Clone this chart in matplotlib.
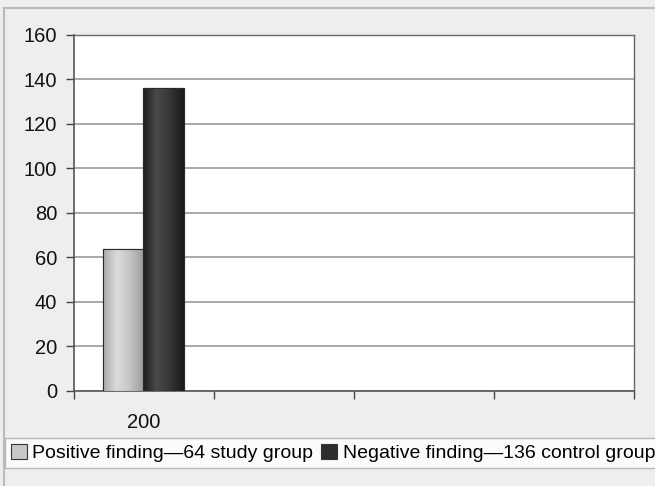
import numpy as np
import matplotlib.pyplot as plt
from matplotlib.colors import LinearSegmentedColormap

plt.rcParams['font.family'] = ['Liberation Sans', 'DejaVu Sans']

# data
categories = ['200', '', '', '']
series_names = ['Positive finding\u201464 study group', 'Negative finding\u2014136 control group']
series_values = [[64], [136]]
y_ticks = [0, 20, 40, 60, 80, 100, 120, 140, 160]

# shading for the two bars (edge -> centre -> edge)
shade_colors = [
    ['#a9a9a9', '#dcdcdc', '#c4c4c4', '#9c9c9c'],
    ['#1e1e1e', '#4a4a4a', '#353535', '#1a1a1a'],
]
face_colors = ['#c8c8c8', '#2e2e2e']

fig = plt.figure(figsize=(6.55, 4.86), dpi=100, facecolor='#eeeeee')
ax = fig.add_axes([0.113, 0.1955, 0.855, 0.7325])
ax.set_facecolor('white')

n_cat = len(categories)
bar_w = 0.29
offsets = [-0.29 / 2 - 0.005, 0.29 / 2 - 0.005]

for i, vals in enumerate(series_values):
    xs = np.arange(len(vals)) + offsets[i]
    bars = ax.bar(xs, vals, width=bar_w, color=face_colors[i],
                  edgecolor='#333333', linewidth=0.8, zorder=3,
                  label=series_names[i])
    cmap = LinearSegmentedColormap.from_list('sh%d' % i, shade_colors[i])
    grad = np.linspace(0, 1, 256).reshape(1, -1)
    for b in bars:
        x0, w, h = b.get_x(), b.get_width(), b.get_height()
        im = ax.imshow(grad, cmap=cmap, aspect='auto', zorder=3.5,
                       extent=[x0, x0 + w, 0, h], interpolation='bicubic')
        im.set_clip_path(b)
        ax.add_patch(plt.Rectangle((x0, 0), w, h, fill=False,
                                   edgecolor='#2a2a2a', linewidth=0.8, zorder=4))

ax.set_xlim(-0.5, n_cat - 0.5)
ax.set_ylim(0, 160)
ax.set_yticks(y_ticks)
ax.set_yticklabels([str(t) for t in y_ticks], fontsize=14.5, color='#111111')
ax.yaxis.grid(True, color='#999999', linewidth=1.2, zorder=0)
ax.set_axisbelow(True)

# category labels between boundary ticks
ax.set_xticks(np.arange(n_cat + 1) - 0.5)
ax.set_xticklabels([])
ax.set_xticks(np.arange(n_cat), minor=True)
ax.set_xticklabels(categories, minor=True, fontsize=14.5, color='#111111')
ax.tick_params(axis='x', which='minor', length=0, pad=16)
ax.tick_params(axis='x', which='major', length=6, width=1, color='#444444', direction='out')
ax.tick_params(axis='y', length=6, width=1, color='#444444', direction='out', pad=6)

for side in ['left', 'bottom']:
    ax.spines[side].set_color('#555555')
    ax.spines[side].set_linewidth(1.2)
for side in ['top', 'right']:
    ax.spines[side].set_color('#666666')
    ax.spines[side].set_linewidth(1.0)

handles, labels = ax.get_legend_handles_labels()
leg = fig.legend(handles, labels, loc='lower left', ncol=2,
                 bbox_to_anchor=(0.008, 0.037),
                 fontsize=14, frameon=True, fancybox=False,
                 handlelength=0.8, handleheight=0.8, handletextpad=0.3,
                 columnspacing=0.4, borderpad=0.3, borderaxespad=0)
leg.get_frame().set_edgecolor('#aaaaaa')
leg.get_frame().set_facecolor('white')
leg.get_frame().set_linewidth(1.0)

# outer chart frame
fig.add_artist(plt.Line2D([0.006, 0.006], [0.0, 0.984], color='#bbbbbb', linewidth=1.5))
fig.add_artist(plt.Line2D([0.006, 1.0], [0.984, 0.984], color='#bbbbbb', linewidth=1.5))

fig.savefig('out.png', dpi=100, facecolor=fig.get_facecolor())
